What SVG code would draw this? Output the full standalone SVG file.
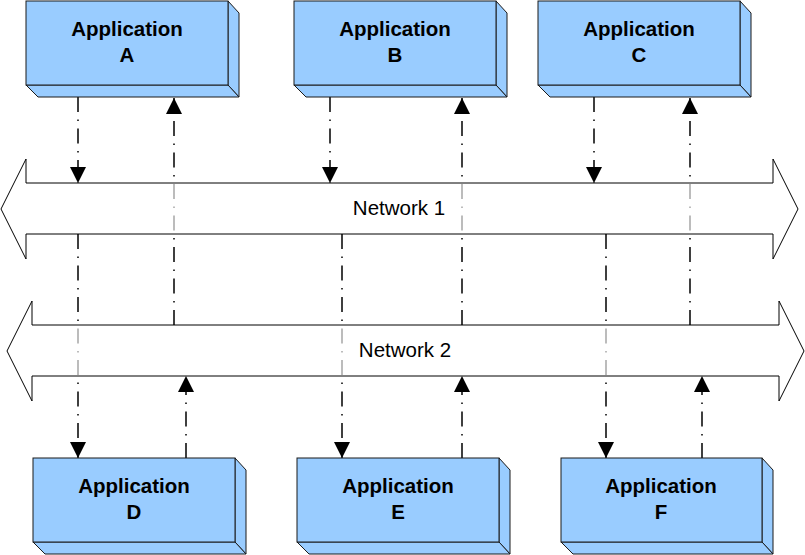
<svg xmlns="http://www.w3.org/2000/svg" width="805" height="555" viewBox="0 0 805 555">
<style>
.face{fill:#99CCFF;stroke:#1a1a1a;stroke-width:1}
.side{fill:#99CCFF;stroke:#1a1a1a;stroke-width:1;stroke-linejoin:round}
.lbl{font-family:"Liberation Sans",Arial,sans-serif;font-weight:bold;font-size:20.5px;fill:#000;text-anchor:middle}
.net{fill:#fff;fill-opacity:0.65;stroke:#000;stroke-width:1}
.ntxt{font-family:"Liberation Sans",Arial,sans-serif;font-size:20.5px;fill:#000;text-anchor:middle}
.con{stroke:#000;stroke-width:1.5;fill:none;stroke-dasharray:15 7.5 1.5 7.5;marker-end:url(#ah)}
</style>
<defs>
<marker id="ah" viewBox="0 0 16 16" refX="16" refY="8" markerWidth="16" markerHeight="16" markerUnits="userSpaceOnUse" orient="auto">
<path d="M0,0 L16,8 L0,16 Z" fill="#000"/>
</marker>
</defs>
<rect width="805" height="555" fill="#fff"/>
<g id="connectors">
<line class="con" x1="78" y1="97" x2="78" y2="183"/>
<line class="con" x1="174" y1="325" x2="174" y2="98"/>
<line class="con" x1="330" y1="97" x2="330" y2="183"/>
<line class="con" x1="462" y1="325" x2="462" y2="98"/>
<line class="con" x1="594" y1="97" x2="594" y2="183"/>
<line class="con" x1="690" y1="325" x2="690" y2="98"/>
<line class="con" x1="78" y1="234" x2="78" y2="458"/>
<line class="con" x1="186" y1="458" x2="186" y2="376"/>
<line class="con" x1="342" y1="234" x2="342" y2="458"/>
<line class="con" x1="462" y1="458" x2="462" y2="376"/>
<line class="con" x1="606" y1="234" x2="606" y2="458"/>
<line class="con" x1="702" y1="458" x2="702" y2="376"/>
</g>
<g id="network1">
<polygon class="net" points="1,209 26,159 26,183 773,183 773,159 798,209 773,259 773,234 26,234 26,259"/>
<text class="ntxt" x="399" y="215">Network 1</text>
</g>
<g id="network2">
<polygon class="net" points="7,351 32,301 32,325 779,325 779,301 804,351 779,401 779,376 32,376 32,401"/>
<text class="ntxt" x="405" y="357">Network 2</text>
</g>
<g id="appA">
<polygon class="side" points="228,1 239,13 239,97 228,85"/>
<polygon class="side" points="26,85 228,85 239,97 38,97"/>
<rect class="face" x="26" y="1" width="202" height="84"/>
<text class="lbl" x="127" y="36">Application</text>
<text class="lbl" x="127" y="62">A</text>
</g>
<g id="appB">
<polygon class="side" points="496,1 507,13 507,97 496,85"/>
<polygon class="side" points="294,85 496,85 507,97 306,97"/>
<rect class="face" x="294" y="1" width="202" height="84"/>
<text class="lbl" x="395" y="36">Application</text>
<text class="lbl" x="395" y="62">B</text>
</g>
<g id="appC">
<polygon class="side" points="740,1 751,13 751,97 740,85"/>
<polygon class="side" points="538,85 740,85 751,97 550,97"/>
<rect class="face" x="538" y="1" width="202" height="84"/>
<text class="lbl" x="639" y="36">Application</text>
<text class="lbl" x="639" y="62">C</text>
</g>
<g id="appD">
<polygon class="side" points="235,458 246,470 246,554 235,542"/>
<polygon class="side" points="33,542 235,542 246,554 45,554"/>
<rect class="face" x="33" y="458" width="202" height="84"/>
<text class="lbl" x="134" y="493">Application</text>
<text class="lbl" x="134" y="519">D</text>
</g>
<g id="appE">
<polygon class="side" points="499,458 510,470 510,554 499,542"/>
<polygon class="side" points="297,542 499,542 510,554 309,554"/>
<rect class="face" x="297" y="458" width="202" height="84"/>
<text class="lbl" x="398" y="493">Application</text>
<text class="lbl" x="398" y="519">E</text>
</g>
<g id="appF">
<polygon class="side" points="762,458 773,470 773,554 762,542"/>
<polygon class="side" points="561,542 762,542 773,554 573,554"/>
<rect class="face" x="561" y="458" width="201" height="84"/>
<text class="lbl" x="661" y="493">Application</text>
<text class="lbl" x="661" y="519">F</text>
</g>
</svg>
